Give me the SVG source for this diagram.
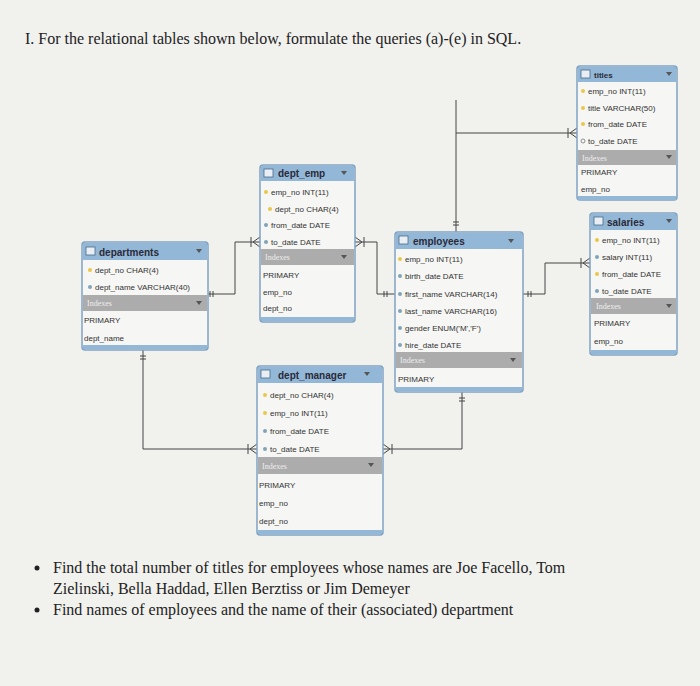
<svg xmlns="http://www.w3.org/2000/svg" width="700" height="686" viewBox="0 0 700 686">
<style>
.bg{fill:#f1f1ee}
.tb{fill:#f6f6f4;stroke:#7fa3c2;stroke-width:1.5}
.hd{fill:#93b7d6}
.ix{fill:#acacac}
.ft{fill:#93b7d6}
.tn{font-family:"Liberation Sans",sans-serif;font-size:10px;font-weight:bold;fill:#2a2a3a}
.r{font-family:"Liberation Sans",sans-serif;font-size:8px;fill:#333}
.ixt{font-family:"Liberation Serif",serif;font-size:8px;fill:#eee}
.ic{fill:#e8eef4;stroke:#4a6a8a;stroke-width:0.8}
.tr{fill:#555}
.q{font-family:"Liberation Serif",serif;font-size:16px;fill:#222}
.c{fill:none;stroke:#444;stroke-width:1}
.k{fill:#e8c84a}
.d{fill:#7fa3b8}
.o{fill:none;stroke:#777;stroke-width:0.8}
</style>
<rect class="bg" width="700" height="686"/>
<text class="q" x="25" y="44">I. For the relational tables shown below, formulate the queries (a)-(e) in SQL.</text>
<g id="connectors">
<path class="c" d="M456,232 V100 M456,133 H577"/>
<path class="c" d="M523,294 H545 V263 H590"/>
<path class="c" d="M355,242 H377 V294 H395"/>
<path class="c" d="M208,294 H235 V242 H260"/>
<path class="c" d="M143,350 V449 H257"/>
<path class="c" d="M462,392 V449 H383"/>
<path class="c" d="M453,222 h6 M453,225 h6 M528,291 v6 M531,291 v6 M210,291 v6 M213,291 v6 M140,356 h6 M140,359 h6 M459,398 h6 M459,401 h6 M384,291 v6 M387,291 v6"/>
<path class="c" d="M577,128 L570,133 L577,138 M568,128 v10 M590,258 L583,263 L590,268 M581,258 v10 M260,237 L253,242 L260,247 M251,237 v10 M257,444 L250,449 L257,454 M248,444 v10 M355,237 L362,242 L355,247 M364,237 v10 M383,444 L390,449 L383,454 M392,444 v10"/>
</g>
<g id="titles">
<rect class="tb" x="577" y="66" width="100" height="134" rx="3"/>
<rect class="hd" x="578" y="67" width="98" height="15"/>
<rect class="ic" x="581" y="70" width="9" height="8"/><text class="tn" x="594" y="78" style="font-size:8px">titles</text><path class="tr" d="M666,72 h6 l-3,4z"/>
<circle class="k" cx="583" cy="91" r="2"/><circle class="k" cx="583" cy="108" r="2"/><circle class="k" cx="583" cy="124" r="2"/><circle class="o" cx="583" cy="141" r="2"/>
<text class="r" x="588" y="94">emp_no INT(11)</text><text class="r" x="588" y="111">title VARCHAR(50)</text><text class="r" x="588" y="127">from_date DATE</text><text class="r" x="588" y="144">to_date DATE</text>
<rect class="ix" x="578" y="150" width="98" height="15"/><text class="ixt" x="582" y="161">Indexes</text><path class="tr" d="M666,155 h6 l-3,4z"/>
<text class="r" x="581" y="175">PRIMARY</text><text class="r" x="581" y="192">emp_no</text>
<rect class="ft" x="578" y="196" width="98" height="4"/>
</g>
<g id="salaries">
<rect class="tb" x="590" y="213" width="87" height="142" rx="3"/>
<rect class="hd" x="591" y="214" width="85" height="16"/>
<rect class="ic" x="594" y="217" width="9" height="8"/><text class="tn" x="607" y="226">salaries</text><path class="tr" d="M666,219 h6 l-3,4z"/>
<circle class="k" cx="597" cy="240" r="2"/><circle class="d" cx="597" cy="257" r="2"/><circle class="k" cx="597" cy="274" r="2"/><circle class="d" cx="597" cy="291" r="2"/>
<text class="r" x="602" y="243">emp_no INT(11)</text><text class="r" x="602" y="260">salary INT(11)</text><text class="r" x="602" y="277">from_date DATE</text><text class="r" x="602" y="294">to_date DATE</text>
<rect class="ix" x="591" y="298" width="85" height="16"/><text class="ixt" x="596" y="309">Indexes</text><path class="tr" d="M666,304 h6 l-3,4z"/>
<text class="r" x="594" y="326">PRIMARY</text><text class="r" x="594" y="344">emp_no</text>
<rect class="ft" x="591" y="350" width="85" height="4"/>
</g>
<g id="dept_emp">
<rect class="tb" x="260" y="165" width="95" height="157" rx="3"/>
<rect class="hd" x="261" y="166" width="93" height="15"/>
<rect class="ic" x="264" y="169" width="9" height="8"/><text class="tn" x="278" y="177">dept_emp</text><path class="tr" d="M341,171 h6 l-3,4z"/>
<circle class="k" cx="266" cy="192" r="2"/><circle class="k" cx="270" cy="209" r="2"/><circle class="d" cx="266" cy="225" r="2"/><circle class="d" cx="266" cy="242" r="2"/>
<text class="r" x="271" y="195">emp_no INT(11)</text><text class="r" x="275" y="212">dept_no CHAR(4)</text><text class="r" x="271" y="228">from_date DATE</text><text class="r" x="271" y="245">to_date DATE</text>
<rect class="ix" x="261" y="249" width="93" height="16"/><text class="ixt" x="265" y="260">Indexes</text><path class="tr" d="M341,255 h6 l-3,4z"/>
<text class="r" x="263" y="278">PRIMARY</text><text class="r" x="263" y="295">emp_no</text><text class="r" x="263" y="311">dept_no</text>
<rect class="ft" x="261" y="317" width="93" height="4"/>
</g>
<g id="departments">
<rect class="tb" x="82" y="242" width="126" height="108" rx="3"/>
<rect class="hd" x="83" y="243" width="124" height="17"/>
<rect class="ic" x="86" y="247" width="9" height="8"/><text class="tn" x="99" y="256">departments</text><path class="tr" d="M196,249 h6 l-3,4z"/>
<circle class="k" cx="90" cy="270" r="2"/><circle class="d" cx="90" cy="287" r="2"/>
<text class="r" x="95" y="273">dept_no CHAR(4)</text><text class="r" x="95" y="290">dept_name VARCHAR(40)</text>
<rect class="ix" x="83" y="295" width="124" height="16"/><text class="ixt" x="87" y="306">Indexes</text><path class="tr" d="M196,301 h6 l-3,4z"/>
<text class="r" x="84" y="323">PRIMARY</text><text class="r" x="84" y="341">dept_name</text>
<rect class="ft" x="83" y="345" width="124" height="4"/>
</g>
<g id="employees">
<rect class="tb" x="395" y="232" width="128" height="160" rx="3"/>
<rect class="hd" x="396" y="233" width="126" height="16"/>
<rect class="ic" x="399" y="236" width="9" height="8"/><text class="tn" x="413" y="245">employees</text><path class="tr" d="M508,239 h6 l-3,4z"/>
<circle class="k" cx="400" cy="259" r="2"/><circle class="d" cx="400" cy="276" r="2"/><circle class="d" cx="400" cy="294" r="2"/><circle class="d" cx="400" cy="311" r="2"/><circle class="d" cx="400" cy="328" r="2"/><circle class="d" cx="400" cy="345" r="2"/>
<text class="r" x="405" y="262">emp_no INT(11)</text><text class="r" x="405" y="279">birth_date DATE</text><text class="r" x="405" y="297">first_name VARCHAR(14)</text><text class="r" x="405" y="314">last_name VARCHAR(16)</text><text class="r" x="405" y="331">gender ENUM('M','F')</text><text class="r" x="405" y="348">hire_date DATE</text>
<rect class="ix" x="396" y="352" width="126" height="16"/><text class="ixt" x="400" y="363">Indexes</text><path class="tr" d="M510,358 h6 l-3,4z"/>
<text class="r" x="398" y="382">PRIMARY</text>
<rect class="ft" x="396" y="387" width="126" height="4"/>
</g>
<g id="dept_manager">
<rect class="tb" x="257" y="366" width="126" height="169" rx="3"/>
<rect class="hd" x="258" y="367" width="124" height="16"/>
<rect class="ic" x="261" y="370" width="9" height="8"/><text class="tn" x="278" y="379">dept_manager</text><path class="tr" d="M364,372 h6 l-3,4z"/>
<circle class="k" cx="265" cy="395" r="2"/><circle class="k" cx="265" cy="413" r="2"/><circle class="d" cx="265" cy="431" r="2"/><circle class="d" cx="265" cy="449" r="2"/>
<text class="r" x="270" y="398">dept_no CHAR(4)</text><text class="r" x="270" y="416">emp_no INT(11)</text><text class="r" x="270" y="434">from_date DATE</text><text class="r" x="270" y="452">to_date DATE</text>
<rect class="ix" x="258" y="457" width="124" height="17"/><text class="ixt" x="262" y="469">Indexes</text><path class="tr" d="M368,463 h6 l-3,4z"/>
<text class="r" x="259" y="488">PRIMARY</text><text class="r" x="259" y="506">emp_no</text><text class="r" x="259" y="524">dept_no</text>
<rect class="ft" x="258" y="530" width="124" height="4"/>
</g>
<g id="questions">
<circle cx="37" cy="568" r="2.5" fill="#222"/>
<text class="q" x="53" y="573">Find the total number of titles for employees whose names are Joe Facello, Tom</text>
<text class="q" x="53" y="594">Zielinski, Bella Haddad, Ellen Berztiss or Jim Demeyer</text>
<circle cx="37" cy="610" r="2.5" fill="#222"/>
<text class="q" x="53" y="615">Find names of employees and the name of their (associated) department</text>
</g>
</svg>
